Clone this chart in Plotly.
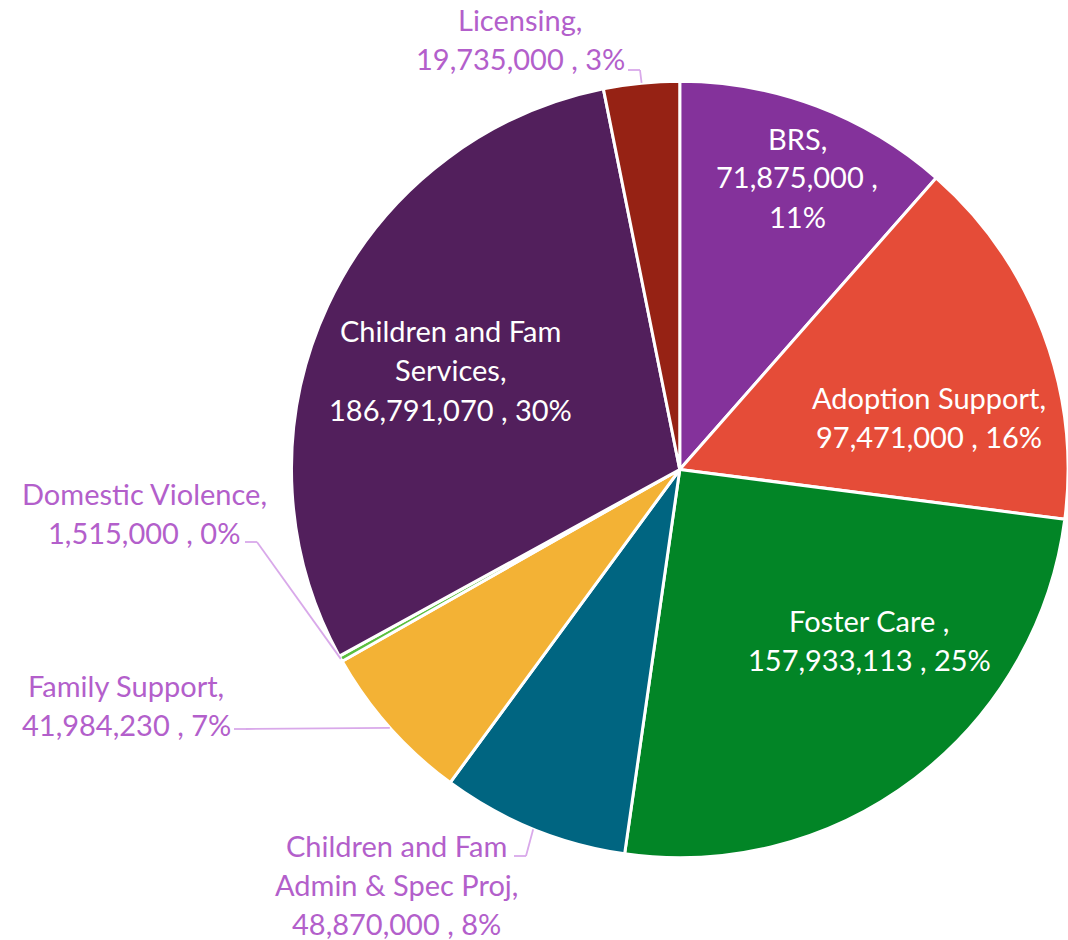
import math
import plotly.graph_objects as go

# ---- data ----
categories = ["BRS", "Adoption Support", "Foster Care",
              "Children and Fam Admin & Spec Proj", "Family Support",
              "Domestic Violence", "Children and Fam Services", "Licensing"]
values = [71875000, 97471000, 157933113, 48870000, 41984230,
          1515000, 186791070, 19735000]
colors = ["#84329B", "#E54C38", "#028526", "#006581", "#F3B235",
          "#5BBF3F", "#521F5C", "#962214"]

# ---- layout config ----
W, H = 1068, 940
CX, CY, R = 680, 469.5, 388.5
FONT = "Lato"
FSIZE = 29
LINE_H = 39
OUT_COLOR = "#B35FCB"
LEAD_COLOR = "#D9A9EA"

# label block centre (px) and line layout per category
label_cfg = {
    "BRS": dict(c=(797, 177), lines="{n},|{v} ,|{p}", inside=True),
    "Adoption Support": dict(c=(929, 417), lines="{n},|{v} , {p}", inside=True),
    "Foster Care": dict(c=(869, 640), lines="{n} ,|{v} , {p}", inside=True),
    "Children and Fam Admin & Spec Proj": dict(c=(396, 884), lines="{n3}|{nr},|{v} , {p}", inside=False, lead=(514, 856)),
    "Family Support": dict(c=(126, 705), lines="{n},|{v} , {p}", inside=False, lead=(234, 729)),
    "Domestic Violence": dict(c=(144, 513), lines="{n},|{v} , {p}", inside=False, lead=(245, 542)),
    "Children and Fam Services": dict(c=(450, 370), lines="{n3}|{nr},|{v} , {p}", inside=True),
    "Licensing": dict(c=(520, 39), lines="{n},|{v} , {p}", inside=False, lead=(628, 70)),
}

total = sum(values)

fig = go.Figure(go.Pie(
    labels=categories, values=values, sort=False, direction="clockwise",
    rotation=0, textinfo="none", hoverinfo="label+value+percent",
    marker=dict(colors=colors, line=dict(color="white", width=3)),
    domain=dict(x=[(CX - R) / W, 1.0], y=[1 - (CY + R) / H, 1 - (CY - R) / H]),
    showlegend=False,
))

annotations = []
shapes = []
cum = 0
for name, v in zip(categories, values):
    cfg = label_cfg[name]
    words = name.split()
    pct = f"{round(100 * v / total)}%"
    txt = cfg["lines"].format(n=name, v=f"{v:,}", p=pct,
                              n3=" ".join(words[:3]), nr=" ".join(words[3:]))
    lines = txt.split("|")
    cx, cy = cfg["c"]
    col = "white" if cfg["inside"] else OUT_COLOR
    n = len(lines)
    for i, ln in enumerate(lines):
        py = cy + (i - (n - 1) / 2) * LINE_H
        annotations.append(dict(x=cx / W, y=1 - py / H, xref="paper", yref="paper",
                                text=ln, showarrow=False, xanchor="center", yanchor="middle",
                                font=dict(family=FONT, size=FSIZE, color=col)))
    # leader line
    mid = 2 * math.pi * (cum + v / 2) / total
    ex, ey = CX + R * math.sin(mid), CY - R * math.cos(mid)
    if "lead" in cfg:
        sx, sy = cfg["lead"]
        elx = sx + 12 if ex > sx else sx - 12
        pts = [(sx, sy), (elx, sy), (ex, ey)]
        for (x0, y0), (x1, y1) in zip(pts[:-1], pts[1:]):
            shapes.append(dict(type="line", xref="paper", yref="paper",
                               x0=x0 / W, y0=1 - y0 / H, x1=x1 / W, y1=1 - y1 / H,
                               line=dict(color=LEAD_COLOR, width=1.8)))
    cum += v

fig.update_layout(width=W, height=H, margin=dict(l=0, r=0, t=0, b=0),
                  paper_bgcolor="white", plot_bgcolor="white",
                  annotations=annotations, shapes=shapes)

fig.write_html("out.html", config={"displayModeBar": False},
               post_script="document.body.style.margin='0px';document.body.style.overflow='hidden';")
